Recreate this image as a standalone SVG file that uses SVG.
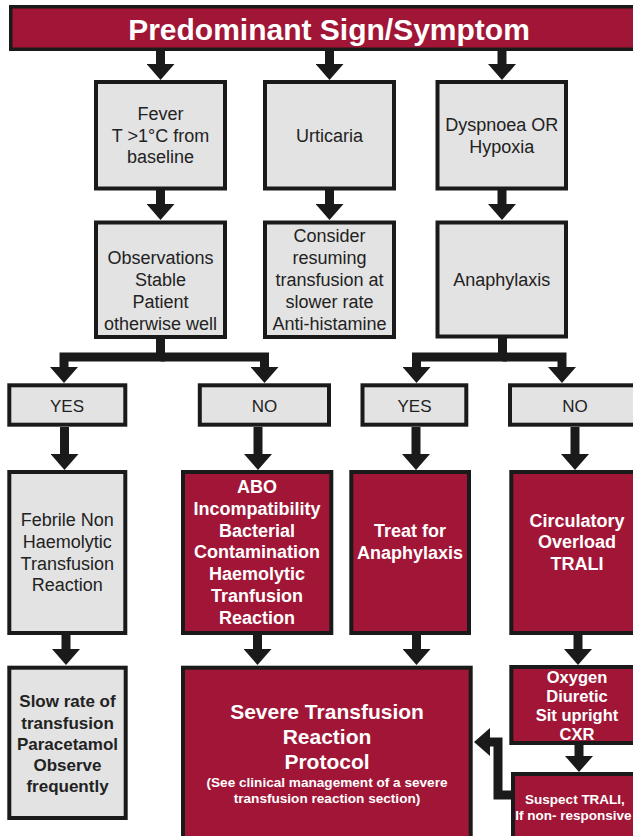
<svg xmlns="http://www.w3.org/2000/svg" width="633" height="836" viewBox="0 0 633 836">
<style>
text{font-family:"Liberation Sans",Arial,Helvetica,sans-serif;text-anchor:middle}
.g{fill:#E3E3E3;stroke:#1A1A1A;stroke-width:4}
.r{fill:#A11637;stroke:#1A1A1A;stroke-width:4}
.tg{font-size:18px;fill:#222}
.yn{font-size:17px;fill:#222}
.tr{font-size:18px;font-weight:bold;fill:#fff}
.tb{font-size:17px;font-weight:bold;fill:#222}
.c{fill:none;stroke:#1A1A1A;stroke-width:9;stroke-linejoin:miter}
</style>
<defs>
<marker id="ah" markerUnits="userSpaceOnUse" markerWidth="16" markerHeight="28" viewBox="0 0 16 28" refX="1" refY="14" orient="auto"><path d="M0,0 L16,14 L0,28 z" fill="#1A1A1A"/></marker>
</defs>
<rect width="633" height="836" fill="#fff"/>

<g id="connectors">
<path class="c" marker-end="url(#ah)" d="M160.5,51 V65"/>
<path class="c" marker-end="url(#ah)" d="M329.5,51 V65"/>
<path class="c" marker-end="url(#ah)" d="M502,51 V65"/>
<path class="c" marker-end="url(#ah)" d="M160.5,190 V205"/>
<path class="c" marker-end="url(#ah)" d="M329.5,190 V205"/>
<path class="c" marker-end="url(#ah)" d="M502,190 V205"/>
<path class="c" marker-end="url(#ah)" d="M160.5,338 V357 H64 V368"/>
<path class="c" marker-end="url(#ah)" d="M160.5,357 H264.5 V368"/>
<path class="c" marker-end="url(#ah)" d="M502.5,337 V357 H416.5 V368"/>
<path class="c" marker-end="url(#ah)" d="M502.5,357 H562 V368"/>
<path class="c" marker-end="url(#ah)" d="M64.5,427 V455"/>
<path class="c" marker-end="url(#ah)" d="M258,427 V455"/>
<path class="c" marker-end="url(#ah)" d="M416,427 V455"/>
<path class="c" marker-end="url(#ah)" d="M575,427 V455"/>
<path class="c" marker-end="url(#ah)" d="M66,635 V650"/>
<path class="c" marker-end="url(#ah)" d="M257.5,635 V650"/>
<path class="c" marker-end="url(#ah)" d="M416.5,635 V650"/>
<path class="c" marker-end="url(#ah)" d="M578,635 V650"/>
<path class="c" marker-end="url(#ah)" d="M579,745 V757"/>
<path class="c" marker-end="url(#ah)" d="M512,795 H498 V742 H489"/>
</g>

<g id="header">
<rect x="10.75" y="6.75" width="700" height="42.5" fill="#A11637" stroke="#1A1A1A" stroke-width="3.5"/>
<text x="329" y="40" style="font-size:30px;font-weight:bold;fill:#fff">Predominant Sign/Symptom</text>
</g>

<g id="fever">
<rect class="g" x="96" y="82" width="129" height="106.5"/>
<text class="tg" x="160.5" y="119.5">Fever</text>
<text class="tg" x="160.5" y="141.5">T &gt;1°C from</text>
<text class="tg" x="160.5" y="163">baseline</text>
</g>

<g id="urticaria">
<rect class="g" x="265" y="82" width="129" height="106.5"/>
<text class="tg" x="329.5" y="141.5">Urticaria</text>
</g>

<g id="dyspnoea">
<rect class="g" x="437.5" y="82" width="128.5" height="106.5"/>
<text class="tg" x="501.7" y="131">Dyspnoea OR</text>
<text class="tg" x="501.7" y="152.5">Hypoxia</text>
</g>

<g id="observations">
<rect class="g" x="96" y="222.5" width="129" height="114.5"/>
<text class="tg" x="160.5" y="263.5">Observations</text>
<text class="tg" x="160.5" y="285.5">Stable</text>
<text class="tg" x="160.5" y="307.5">Patient</text>
<text class="tg" x="160.5" y="329.5">otherwise well</text>
</g>

<g id="consider">
<rect class="g" x="265" y="222.5" width="129" height="114.5"/>
<text class="tg" x="329.5" y="242">Consider</text>
<text class="tg" x="329.5" y="263.5">resuming</text>
<text class="tg" x="329.5" y="285.5">transfusion at</text>
<text class="tg" x="329.5" y="307.5">slower rate</text>
<text class="tg" x="329.5" y="329.5">Anti-histamine</text>
</g>

<g id="anaphylaxis">
<rect class="g" x="437.5" y="222.5" width="128.5" height="114"/>
<text class="tg" x="501.7" y="286">Anaphylaxis</text>
</g>

<g id="yes1">
<rect class="g" x="9.3" y="385.3" width="116" height="39.4"/>
<text class="yn" x="67" y="412">YES</text>
</g>
<g id="no1">
<rect class="g" x="199.8" y="385.3" width="129.2" height="39.4"/>
<text class="yn" x="264.5" y="412">NO</text>
</g>
<g id="yes2">
<rect class="g" x="362.5" y="385.3" width="103.8" height="39.4"/>
<text class="yn" x="414.5" y="412">YES</text>
</g>
<g id="no2">
<rect class="g" x="510" y="385.3" width="200" height="39.4"/>
<text class="yn" x="575" y="412">NO</text>
</g>

<g id="febrile">
<rect class="g" x="9.3" y="472" width="116" height="161"/>
<text class="tg" x="67.3" y="526">Febrile Non</text>
<text class="tg" x="67.3" y="547.8">Haemolytic</text>
<text class="tg" x="67.3" y="569.6">Transfusion</text>
<text class="tg" x="67.3" y="591.4">Reaction</text>
</g>

<g id="abo">
<rect class="r" x="183" y="472" width="148.3" height="161"/>
<text class="tr" x="257" y="492.7">ABO</text>
<text class="tr" x="257" y="514.6">Incompatibility</text>
<text class="tr" x="257" y="536.5">Bacterial</text>
<text class="tr" x="257" y="558.4">Contamination</text>
<text class="tr" x="257" y="580.3">Haemolytic</text>
<text class="tr" x="257" y="602.2">Tranfusion</text>
<text class="tr" x="257" y="624.1">Reaction</text>
</g>

<g id="treat">
<rect class="r" x="351.3" y="472" width="117.7" height="161"/>
<text class="tr" x="410" y="536.7">Treat for</text>
<text class="tr" x="410" y="558.7">Anaphylaxis</text>
</g>

<g id="circulatory">
<rect class="r" x="511.3" y="472" width="200" height="161"/>
<text class="tr" x="577" y="526.7">Circulatory</text>
<text class="tr" x="577" y="548.3">Overload</text>
<text class="tr" x="577" y="569.5">TRALI</text>
</g>

<g id="slow">
<rect class="g" x="9.3" y="667.7" width="116.4" height="150.3"/>
<text class="tb" x="67.5" y="707.3">Slow rate of</text>
<text class="tb" x="67.5" y="728.5">transfusion</text>
<text class="tb" x="67.5" y="749.7">Paracetamol</text>
<text class="tb" x="67.5" y="770.7">Observe</text>
<text class="tb" x="67.5" y="791.5">frequently</text>
</g>

<g id="severe">
<rect class="r" x="183" y="667.7" width="287.7" height="200"/>
<text x="327" y="719.3" style="font-size:21px;font-weight:bold;fill:#fff">Severe Transfusion</text>
<text x="327" y="744.3" style="font-size:21px;font-weight:bold;fill:#fff">Reaction</text>
<text x="327" y="769.3" style="font-size:21px;font-weight:bold;fill:#fff">Protocol</text>
<text x="327" y="787.3" style="font-size:13.6px;font-weight:bold;fill:#fff">(See clinical management of a severe</text>
<text x="327" y="803.3" style="font-size:13.6px;font-weight:bold;fill:#fff">transfusion reaction section)</text>
</g>

<g id="oxygen">
<rect class="r" x="511.3" y="667" width="200" height="76"/>
<text x="577" y="682.7" style="font-size:16.5px;font-weight:bold;fill:#fff">Oxygen</text>
<text x="577" y="702" style="font-size:16.5px;font-weight:bold;fill:#fff">Diuretic</text>
<text x="577" y="721" style="font-size:16.5px;font-weight:bold;fill:#fff">Sit upright</text>
<text x="577" y="740" style="font-size:16.5px;font-weight:bold;fill:#fff">CXR</text>
</g>

<g id="suspect">
<rect class="r" x="513" y="774" width="200" height="100"/>
<text x="575" y="804" style="font-size:13.5px;font-weight:bold;fill:#fff">Suspect TRALI,</text>
<text x="573.5" y="820.3" style="font-size:13.5px;font-weight:bold;fill:#fff">If non- responsive</text>
</g>
</svg>
